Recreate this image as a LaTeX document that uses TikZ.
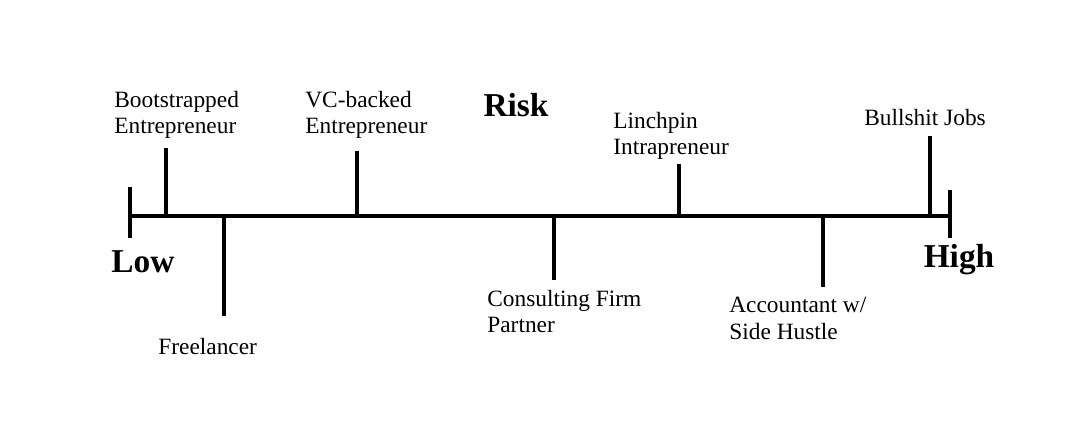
\documentclass[tikz,border=0pt]{standalone}
\usepackage{fontspec}
\setmainfont{Liberation Serif}
\tikzset{
  bar/.style={line width=2.4pt},
  lbl/.style={anchor=north west,align=left,inner sep=0pt,font=\fontsize{13.3}{15}\selectfont},
  big/.style={font=\fontsize{19}{22}\selectfont\bfseries,inner sep=0pt}
}
\begin{document}
\begin{tikzpicture}[x=0.02cm,y=-0.02cm]
  \useasboundingbox (0,0) rectangle (1087,423);
  % axis
  \coordinate (L) at (130,216);
  \coordinate (R) at (950,216);
  \draw[bar] (L) -- (R);
  \draw[bar] (130,187) -- (130,238);
  \draw[bar] (950,190) -- (950,238);
  \node[big] (low) at (143,262) {Low};
  \node[big] (high) at (959,260) {High};
  \node[big] (risk) at (516,105) {Risk};
  % ticks
  \draw[bar] (166,216) -- (166,148);
  \draw[bar] (224,216) -- (224,316);
  \draw[bar] (357,216) -- (357,151);
  \draw[bar] (554,216) -- (554,280);
  \draw[bar] (679,216) -- (679,164);
  \draw[bar] (823,216) -- (823,287);
  \draw[bar] (930,216) -- (930,136);
  % labels
  \node[lbl] (boot) at (114,91) {Bootstrapped\\Entrepreneur};
  \node[lbl] (free) at (158,338) {Freelancer};
  \node[lbl] (vc) at (305,91) {VC-backed\\Entrepreneur};
  \node[lbl] (cons) at (487,290) {Consulting Firm\\Partner};
  \node[lbl] (linch) at (613,112) {Linchpin\\Intrapreneur};
  \node[lbl] (acct) at (729,297) {Accountant w/\\Side Hustle};
  \node[lbl] (bs) at (864,109) {Bullshit Jobs};
\end{tikzpicture}
\end{document}
